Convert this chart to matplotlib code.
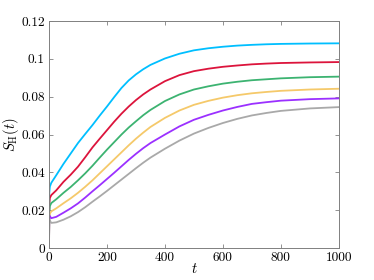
import matplotlib
matplotlib.use("Agg")
import matplotlib.pyplot as plt

plt.rcParams['font.family'] = 'serif'
plt.rcParams['font.serif'] = ['cmr10', 'DejaVu Serif']
plt.rcParams['mathtext.fontset'] = 'cm'
plt.rcParams['axes.formatter.use_mathtext'] = True

t = [0, 1, 3, 8, 25, 50, 75, 100, 125, 150, 175, 200, 225, 250, 275, 300, 325, 350,
     400, 450, 500, 550, 600, 650, 700, 750, 800, 900, 1000]

s_cyan = [0, 0.029, 0.0325, 0.0345, 0.0385, 0.0445, 0.0500, 0.0555, 0.0603, 0.0650, 0.0700,
          0.0748, 0.0798, 0.0846, 0.0886, 0.0918, 0.0945, 0.0968,
          0.1002, 0.1027, 0.1045, 0.1056, 0.1064, 0.1070, 0.1074, 0.1077, 0.1079, 0.1081, 0.1082]
s_red = [0, 0.023, 0.0265, 0.0280, 0.0305, 0.0350, 0.0388, 0.0430, 0.0480, 0.0532, 0.0578,
         0.0623, 0.0668, 0.0710, 0.0748, 0.0782, 0.0812, 0.0838,
         0.0882, 0.0914, 0.0935, 0.0948, 0.0958, 0.0965, 0.0971, 0.0975, 0.0978, 0.0981, 0.0983]
s_green = [0, 0.019, 0.0222, 0.0238, 0.0258, 0.0292, 0.0323, 0.0358, 0.0395, 0.0435, 0.0478,
           0.0520, 0.0560, 0.0600, 0.0637, 0.0670, 0.0702, 0.0730,
           0.0777, 0.0812, 0.0838, 0.0855, 0.0869, 0.0879, 0.0887, 0.0892, 0.0897, 0.0903, 0.0906]
s_yellow = [0, 0.016, 0.0182, 0.0194, 0.0210, 0.0237, 0.0263, 0.0292, 0.0324, 0.0358, 0.0395,
            0.0432, 0.0469, 0.0506, 0.0543, 0.0578, 0.0610, 0.0640,
            0.0688, 0.0727, 0.0757, 0.0778, 0.0795, 0.0808, 0.0818, 0.0825, 0.0831, 0.0838, 0.0842]
s_purple = [0, 0.0172, 0.0168, 0.0158, 0.0165, 0.0187, 0.0210, 0.0236, 0.0267, 0.0300, 0.0332,
            0.0365, 0.0398, 0.0432, 0.0466, 0.0498, 0.0528, 0.0555,
            0.0600, 0.0643, 0.0678, 0.0704, 0.0727, 0.0746, 0.0762, 0.0771, 0.0779, 0.0787, 0.0791]
s_gray = [0, 0.0150, 0.0145, 0.0133, 0.0136, 0.0150, 0.0168, 0.0190, 0.0216, 0.0245, 0.0273,
          0.0302, 0.0332, 0.0362, 0.0392, 0.0422, 0.0451, 0.0478,
          0.0525, 0.0568, 0.0605, 0.0635, 0.0661, 0.0683, 0.0701, 0.0714, 0.0725, 0.0738, 0.0745]

series = [s_cyan, s_red, s_green, s_yellow, s_purple, s_gray]
colors = ['#00BFFF', '#DC143C', '#3CB371', '#F5C96A', '#9B30FF', '#A9A9A9']

xticks = [0, 200, 400, 600, 800, 1000]
yticks = [0, 0.02, 0.04, 0.06, 0.08, 0.1, 0.12]
ytick_labels = ['0', '0.02', '0.04', '0.06', '0.08', '0.1', '0.12']

fig = plt.figure(figsize=(3.74, 2.80), dpi=100)
ax = fig.add_axes([0.131, 0.114, 0.775, 0.811])

for s, c in zip(series, colors):
    ax.plot(t, s, color=c, lw=1.3)

ax.set_xlim(0, 1000)
ax.set_ylim(0, 0.12)
ax.set_xticks(xticks)
ax.set_xticklabels([str(v) for v in xticks])
ax.set_yticks(yticks)
ax.set_yticklabels(ytick_labels)
ax.tick_params(direction='in', length=3, width=0.6, color='#808080',
               top=True, right=True, labelsize=9.6, pad=3)
for sp in ax.spines.values():
    sp.set_color('#808080')
    sp.set_linewidth(0.7)

ax.set_xlabel(r'$t$', fontsize=10.5, labelpad=-2)
ax.set_ylabel(r'$S_{\mathrm{H}}(t)$', fontsize=10.5, labelpad=0)

fig.savefig('out.png', dpi=100)
